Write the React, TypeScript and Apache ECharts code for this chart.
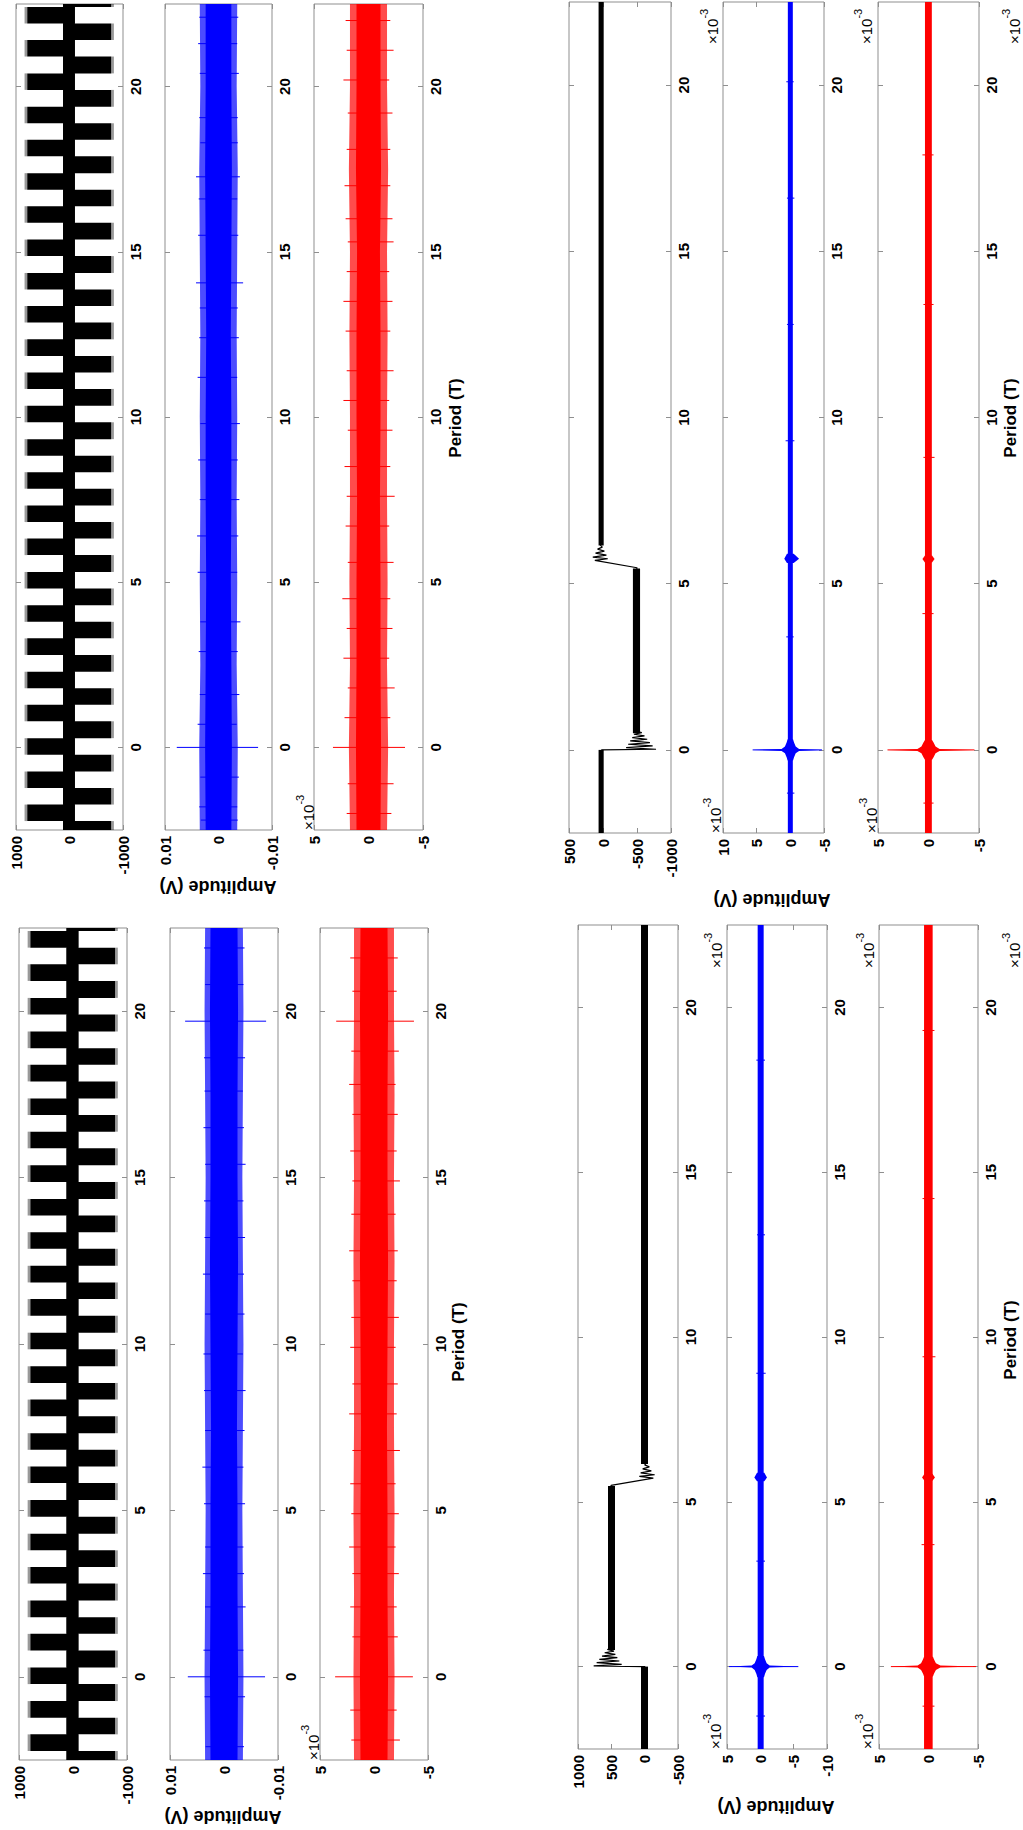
import React, { useEffect, useRef } from "react";
import * as echarts from "echarts";

// ---------------- DATA ----------------
const periodMin = -2.5;
const periodMax = 22.5;
const periodTicks = [0, 5, 10, 15, 20];

const sqBlackTicks = [-1000, 0, 1000];
const sqBlueTicks = [-0.01, 0, 0.01];
const redTicks = [-5, 0, 5];
const downBlackTicks = [-1000, -500, 0, 500];
const downBlueTicks = [-5, 0, 5, 10];
const upBlackTicks = [-500, 0, 500, 1000];
const upBlueTicks = [-10, -5, 0, 5];

// square wave (left column), period intervals of the positive / negative half cycles
const sqPosBlocks = [
  [-2.23, -1.73], [-1.23, -0.73], [-0.22, 0.28], [0.79, 1.29], [1.79, 2.29],
  [2.8, 3.3], [3.8, 4.3], [4.81, 5.31], [5.82, 6.32], [6.82, 7.32],
  [7.83, 8.33], [8.83, 9.33], [9.84, 10.34], [10.85, 11.35], [11.85, 12.35],
  [12.86, 13.36], [13.86, 14.36], [14.87, 15.37], [15.88, 16.38], [16.88, 17.38],
  [17.89, 18.39], [18.89, 19.39], [19.9, 20.4], [20.91, 21.41], [21.91, 22.41],
];
const sqNegBlocks = [
  [-2.5, -2.23], [-1.73, -1.23], [-0.73, -0.22], [0.28, 0.79], [1.29, 1.79],
  [2.29, 2.8], [3.3, 3.8], [4.3, 4.81], [5.31, 5.82], [6.32, 6.82],
  [7.32, 7.83], [8.33, 8.83], [9.33, 9.84], [10.34, 10.85], [11.35, 11.85],
  [12.35, 12.86], [13.36, 13.86], [14.36, 14.87], [15.37, 15.88], [16.38, 16.88],
  [17.38, 17.89], [18.39, 18.89], [19.39, 19.9], [20.4, 20.91], [21.41, 21.91], [22.41, 22.5],
];
const sqPosLevel = [-100, 790];
const sqNegLevel = [-780, 120];
const sqPosFringe = [790, 840];
const sqNegFringe = [-830, -780];
const sqSpine = [-100, 120];

// noise envelopes (half widths) sampled at these periods
const envPeriods = [-2.5, 0, 2.5, 5, 7.5, 10, 12.5, 15, 17.5, 20, 22.5];
const tlBlueOuter = [0.0035, 0.0036, 0.0034, 0.0035, 0.0034, 0.0035, 0.0034, 0.0035, 0.0036, 0.0034, 0.0035];
const tlBlueCore = [0.0024, 0.0025, 0.0024, 0.0023, 0.0024, 0.0024, 0.0023, 0.0024, 0.0025, 0.0024, 0.0024];
const tlRedOuter = [1.7, 1.8, 1.7, 1.75, 1.7, 1.7, 1.75, 1.7, 1.8, 1.7, 1.7];
const tlRedCore = [1.1, 1.15, 1.1, 1.1, 1.05, 1.1, 1.1, 1.05, 1.15, 1.1, 1.1];
const blBlueOuter = [0.0035, 0.0036, 0.0035, 0.0034, 0.0035, 0.0036, 0.0035, 0.0034, 0.0035, 0.0036, 0.0035];
const blBlueCore = [0.0025, 0.0026, 0.0025, 0.0025, 0.0024, 0.0025, 0.0026, 0.0025, 0.0025, 0.0026, 0.0025];
const blRedOuter = [1.85, 1.9, 1.85, 1.9, 1.85, 1.85, 1.9, 1.85, 1.9, 1.85, 1.85];
const blRedCore = [1.25, 1.3, 1.25, 1.25, 1.2, 1.25, 1.3, 1.25, 1.25, 1.3, 1.25];

// isolated excursions [period, low, high]
const tlBlueSpikes = [
  [0, -0.0074, 0.0078], [-2.2, -0.0036, 0.0033], [-1.8, -0.0035, 0.0036], [-0.9, -0.0038, 0.0034],
  [0.7, -0.0034, 0.0039], [1.6, -0.0039, 0.0035], [2.9, -0.0036, 0.0037], [3.8, -0.0041, 0.0034],
  [5.3, -0.0035, 0.0039], [6.4, -0.0037, 0.004], [7.5, -0.0039, 0.0035], [8.7, -0.0036, 0.0038],
  [9.8, -0.004, 0.0034], [11.2, -0.0035, 0.0039], [12.4, -0.0038, 0.0036], [13.3, -0.0036, 0.0035],
  [14.06, -0.0046, 0.0042], [15.5, -0.0037, 0.0038], [16.6, -0.0035, 0.0037], [17.27, -0.004, 0.0042],
  [18.3, -0.0036, 0.0034], [19.06, -0.0036, 0.0036], [20.4, -0.0038, 0.0035], [21.3, -0.0035, 0.0038],
  [22.1, -0.0037, 0.0036],
];
const tlRedSpikes = [
  [0, -3.35, 3.26], [-2.0, -2.1, 2.0], [-1.1, -2.3, 1.9], [0.9, -2.0, 2.2], [1.8, -2.4, 1.9],
  [2.7, -1.9, 2.3], [3.6, -2.2, 2.0], [4.5, -2.0, 2.4], [5.6, -2.3, 1.9], [6.7, -1.9, 2.1],
  [7.6, -2.4, 2.0], [8.5, -2.0, 2.2], [9.6, -2.2, 1.9], [10.5, -1.9, 2.3], [11.4, -2.3, 2.0],
  [12.6, -2.0, 2.1], [13.5, -2.2, 2.3], [14.4, -1.9, 2.0], [15.3, -2.3, 1.9], [16.0, -2.2, 2.1],
  [17.0, -2.0, 2.2], [18.1, -2.0, 2.0], [19.2, -2.2, 1.9], [20.2, -1.9, 2.3], [21.1, -2.3, 2.0],
  [22.0, -2.0, 2.1],
];
const blBlueSpikes = [
  [0, -0.0076, 0.0067], [19.7, -0.0078, 0.0072], [-2.1, -0.0037, 0.0034], [-0.6, -0.0039, 0.0036],
  [0.8, -0.0036, 0.0038], [2.1, -0.004, 0.0035], [3.1, -0.0037, 0.0039], [3.9, -0.0036, 0.0035],
  [5.2, -0.0039, 0.0037], [6.3, -0.0036, 0.004], [7.4, -0.0038, 0.0035], [8.6, -0.004, 0.0037],
  [9.7, -0.0035, 0.0038], [10.9, -0.0038, 0.0035], [12.1, -0.0037, 0.0039], [13.2, -0.0039, 0.0036],
  [14.3, -0.0036, 0.0037], [15.4, -0.004, 0.0035], [16.5, -0.0037, 0.0038], [17.6, -0.0035, 0.0036],
  [18.6, -0.0039, 0.0037], [20.8, -0.0036, 0.0035], [21.9, -0.0038, 0.0037],
];
const blRedSpikes = [
  [0, -3.6, 3.6], [19.7, -3.7, 3.5], [-1.9, -2.4, 2.1], [-1.0, -2.1, 2.2], [1.2, -2.2, 2.0],
  [2.1, -2.1, 2.2], [3.1, -2.3, 2.0], [3.9, -2.0, 2.3], [4.9, -2.3, 2.1], [5.8, -2.0, 2.2],
  [6.8, -2.4, 2.0], [7.9, -2.1, 2.3], [8.8, -2.2, 2.0], [9.9, -2.0, 2.2], [10.8, -2.3, 2.1],
  [11.9, -2.1, 2.0], [12.8, -2.2, 2.3], [13.9, -2.0, 2.1], [14.9, -2.4, 2.0], [15.8, -2.1, 2.2],
  [16.9, -2.2, 2.0], [17.8, -2.0, 2.3], [18.8, -2.3, 2.1], [20.6, -2.1, 2.0], [21.6, -2.2, 2.2],
];

// step panels (right column): black flat segments [p0, p1, low, high]
const trBlackFlat = [[-2.5, 0, -10, 65], [0.5, 5.46, -545, -440], [6.15, 22.5, -10, 65]];
const trBlackEdge1 = [
  [30, -0.04], [20, 0], [-780, 0.02], [-340, 0.07], [-730, 0.12], [-370, 0.17], [-690, 0.22],
  [-400, 0.27], [-650, 0.32], [-430, 0.37], [-610, 0.42], [-455, 0.47], [-570, 0.52], [-490, 0.56],
];
const trBlackEdge2 = [
  [-495, 5.42], [-500, 5.48], [120, 5.7], [-70, 5.75], [150, 5.8], [-50, 5.86], [110, 5.92],
  [-20, 5.98], [80, 6.04], [10, 6.1], [40, 6.16],
];
const brBlackFlat = [[-2.5, 0, -50, 55], [0.5, 5.48, 445, 550], [6.15, 22.5, -50, 55]];
const brBlackEdge1 = [
  [-10, -0.04], [0, 0], [765, 0.02], [345, 0.07], [720, 0.12], [380, 0.17], [680, 0.22],
  [410, 0.27], [640, 0.32], [440, 0.37], [600, 0.42], [460, 0.47], [560, 0.52], [490, 0.56],
];
const brBlackEdge2 = [
  [500, 5.44], [505, 5.5], [-130, 5.72], [80, 5.77], [-150, 5.82], [60, 5.88], [-100, 5.94],
  [30, 6.0], [-70, 6.06], [0, 6.12], [-30, 6.18],
];

// narrow noise bands (x10^-3) [p0, p1, low, high]
const trBlueBand = [[-2.5, 22.5, -0.37, 0.37]];
const trRedBand = [[-2.5, 22.5, -0.33, 0.35]];
const brBlueBand = [[-2.5, 22.5, -0.5, 0.4]];
const brRedBand = [[-2.5, 22.5, -0.42, 0.45]];
const trBlueSpikes = [[0, -4.7, 5.6], [-1.3, -0.6, 0.5], [3.4, -0.5, 0.6], [9.3, -0.6, 0.7], [12.8, -0.5, 0.5], [16.6, -0.6, 0.5], [20.1, -0.5, 0.6]];
const trRedSpikes = [[0, -4.55, 4.06], [-1.6, -0.5, 0.5], [4.1, -0.5, 0.6], [8.8, -0.6, 0.5], [13.4, -0.5, 0.5], [17.9, -0.5, 0.6]];
const brBlueSpikes = [[0, -5.7, 4.7], [-1.5, -0.7, 0.6], [3.2, -0.7, 0.6], [8.9, -0.8, 0.6], [13.1, -0.7, 0.5], [18.4, -0.7, 0.6]];
const brRedSpikes = [[0, -4.8, 3.8], [-1.2, -0.6, 0.6], [3.7, -0.6, 0.7], [9.4, -0.7, 0.6], [14.2, -0.6, 0.6], [19.3, -0.6, 0.6]];
// spike bodies [value, period]
const trBlueStars = [
  [[5.6, 0], [1.3, 0.03], [0.8, 0.1], [0.55, 0.22], [0.4, 0.32], [-0.4, 0.32], [-0.55, 0.22], [-0.8, 0.1], [-1.3, 0.03], [-4.7, 0], [-1.3, -0.03], [-0.8, -0.1], [-0.55, -0.22], [-0.4, -0.32], [0.4, -0.32], [0.55, -0.22], [0.8, -0.1], [1.3, -0.03]],
  [[0.9, 5.75], [0.5, 5.62], [-0.5, 5.62], [-1.3, 5.75], [-0.5, 5.9], [0.5, 5.9]],
];
const trRedStars = [
  [[4.06, 0], [1.1, 0.03], [0.7, 0.1], [0.5, 0.22], [0.35, 0.3], [-0.35, 0.3], [-0.5, 0.22], [-0.7, 0.1], [-1.1, 0.03], [-4.55, 0], [-1.1, -0.03], [-0.7, -0.1], [-0.5, -0.22], [-0.35, -0.3], [0.35, -0.3], [0.5, -0.22], [0.7, -0.1], [1.1, -0.03]],
  [[0.6, 5.74], [0.35, 5.64], [-0.35, 5.64], [-0.6, 5.74], [-0.35, 5.85], [0.35, 5.85]],
];
const brBlueStars = [
  [[4.7, 0], [1.3, 0.03], [0.85, 0.1], [0.6, 0.22], [0.45, 0.32], [-0.55, 0.32], [-0.7, 0.22], [-0.95, 0.1], [-1.4, 0.03], [-5.7, 0], [-1.4, -0.03], [-0.95, -0.1], [-0.7, -0.22], [-0.55, -0.32], [0.45, -0.32], [0.6, -0.22], [0.85, -0.1], [1.3, -0.03]],
  [[0.9, 5.74], [0.5, 5.62], [-0.6, 5.62], [-1.0, 5.74], [-0.6, 5.88], [0.5, 5.88]],
];
const brRedStars = [
  [[3.8, 0], [1.1, 0.03], [0.75, 0.1], [0.55, 0.22], [0.45, 0.3], [-0.45, 0.3], [-0.55, 0.22], [-0.75, 0.1], [-1.2, 0.03], [-4.8, 0], [-1.2, -0.03], [-0.75, -0.1], [-0.55, -0.22], [-0.45, -0.3], [0.45, -0.3], [0.55, -0.22], [0.75, -0.1], [1.1, -0.03]],
  [[0.65, 5.74], [0.4, 5.64], [-0.4, 5.64], [-0.65, 5.74], [-0.4, 5.85], [0.4, 5.85]],
];

// ---------------- STYLE / LAYOUT ----------------
const GRAY = "#8f8f8f";
const FONT = "'Liberation Sans', Arial, Helvetica, sans-serif";
const BLACK = "#000000";
const BLUE = "#0000ff";
const RED = "#ff0000";

const rectEl = (api: any, p0: number, p1: number, lo: number, hi: number, color: string, opacity = 1) => {
  const a = api.coord([lo, p0]);
  const b = api.coord([hi, p1]);
  return {
    type: "rect",
    shape: { x: Math.min(a[0], b[0]), y: Math.min(a[1], b[1]), width: Math.abs(b[0] - a[0]), height: Math.abs(b[1] - a[1]) },
    style: { fill: color, opacity },
  };
};
const bandEl = (api: any, halfs: number[], color: string, opacity: number) => {
  const up = envPeriods.map((p, k) => api.coord([halfs[k], p]));
  const dn = envPeriods.map((p, k) => api.coord([-halfs[k], p])).reverse();
  return { type: "polygon", shape: { points: up.concat(dn) }, style: { fill: color, opacity } };
};
const spikeEl = (api: any, s: number[], color: string) => {
  const a = api.coord([s[1], s[0]]);
  const b = api.coord([s[2], s[0]]);
  return { type: "line", shape: { x1: a[0], y1: a[1], x2: b[0], y2: b[1] }, style: { stroke: color, lineWidth: 1 } };
};
const polyEl = (api: any, pts: number[][], color: string) => ({
  type: "polygon",
  shape: { points: pts.map((q) => api.coord([q[0], q[1]])) },
  style: { fill: color },
});

const squareBlack = (api: any) => [
  rectEl(api, periodMin, periodMax, sqSpine[0], sqSpine[1], BLACK),
  ...sqPosBlocks.map((b) => rectEl(api, b[0], b[1], sqPosFringe[0], sqPosFringe[1], BLACK, 0.4)),
  ...sqNegBlocks.map((b) => rectEl(api, b[0], b[1], sqNegFringe[0], sqNegFringe[1], BLACK, 0.4)),
  ...sqPosBlocks.map((b) => rectEl(api, b[0], b[1], sqPosLevel[0], sqPosLevel[1], BLACK)),
  ...sqNegBlocks.map((b) => rectEl(api, b[0], b[1], sqNegLevel[0], sqNegLevel[1], BLACK)),
];
const noisy = (outer: number[], core: number[], spikes: number[][], color: string) => (api: any) => [
  bandEl(api, outer, color, 0.7),
  bandEl(api, core, color, 1),
  ...spikes.map((s) => spikeEl(api, s, color)),
];
const stepBlack = (flat: number[][]) => (api: any) => flat.map((f) => rectEl(api, f[0], f[1], f[2], f[3], BLACK));
const narrow = (band: number[][], spikes: number[][], stars: number[][][], color: string) => (api: any) => [
  ...band.map((f) => rectEl(api, f[0], f[1], f[2], f[3], color)),
  ...spikes.map((s) => spikeEl(api, s, color)),
  ...stars.map((st) => polyEl(api, st, color)),
];

type Sub = { x0: number; x1: number; top: number; bottom: number; min: number; max: number; ticks: number[]; draw: any; lines?: number[][][] };

const subplots: Sub[] = [
  // top-left
  { x0: 16, x1: 123, top: 4, bottom: 830, min: -1000, max: 1000, ticks: sqBlackTicks, draw: squareBlack },
  { x0: 165, x1: 272, top: 4, bottom: 830, min: -0.01, max: 0.01, ticks: sqBlueTicks, draw: noisy(tlBlueOuter, tlBlueCore, tlBlueSpikes, BLUE) },
  { x0: 314, x1: 423, top: 4, bottom: 830, min: -5, max: 5, ticks: redTicks, draw: noisy(tlRedOuter, tlRedCore, tlRedSpikes, RED) },
  // bottom-left
  { x0: 19, x1: 127, top: 928, bottom: 1760, min: -1000, max: 1000, ticks: sqBlackTicks, draw: squareBlack },
  { x0: 170, x1: 278, top: 928, bottom: 1760, min: -0.01, max: 0.01, ticks: sqBlueTicks, draw: noisy(blBlueOuter, blBlueCore, blBlueSpikes, BLUE) },
  { x0: 320, x1: 428, top: 928, bottom: 1760, min: -5, max: 5, ticks: redTicks, draw: noisy(blRedOuter, blRedCore, blRedSpikes, RED) },
  // top-right
  { x0: 569, x1: 671, top: 2, bottom: 833, min: -1000, max: 500, ticks: downBlackTicks, draw: stepBlack(trBlackFlat), lines: [trBlackEdge1, trBlackEdge2] },
  { x0: 723, x1: 824, top: 2, bottom: 833, min: -5, max: 10, ticks: downBlueTicks, draw: narrow(trBlueBand, trBlueSpikes, trBlueStars, BLUE) },
  { x0: 878, x1: 979, top: 2, bottom: 833, min: -5, max: 5, ticks: redTicks, draw: narrow(trRedBand, trRedSpikes, trRedStars, RED) },
  // bottom-right
  { x0: 578, x1: 678, top: 925, bottom: 1749, min: -500, max: 1000, ticks: upBlackTicks, draw: stepBlack(brBlackFlat), lines: [brBlackEdge1, brBlackEdge2] },
  { x0: 727, x1: 827, top: 925, bottom: 1749, min: -10, max: 5, ticks: upBlueTicks, draw: narrow(brBlueBand, brBlueSpikes, brBlueStars, BLUE) },
  { x0: 879, x1: 978, top: 925, bottom: 1749, min: -5, max: 5, ticks: redTicks, draw: narrow(brRedBand, brRedSpikes, brRedStars, RED) },
];

const ampTitlePos = [[218, 887], [223, 1817], [772, 900], [776, 1807]];
const periodTitlePos = [[455, 418], [458, 1342], [1010, 418], [1010, 1340]];
const ampExpPos = [[305, 830], [310, 1760], [712, 833], [868, 833], [712, 1749], [864, 1749]];
const perExpPos = [[709, 44], [863, 44], [1011, 44], [713, 968], [865, 968], [1011, 968]];

const labelStyle = { color: "#000", fontSize: 15, fontWeight: "bold", fontFamily: FONT };

function buildOption() {
  const grid: any[] = [];
  const xAxis: any[] = [];
  const yAxis: any[] = [];
  const series: any[] = [];
  subplots.forEach((s, i) => {
    grid.push({
      left: s.x0, top: s.top, width: s.x1 - s.x0, height: s.bottom - s.top,
      show: true, borderColor: GRAY, borderWidth: 1, backgroundColor: "#fff",
      containLabel: false, outerBoundsMode: "none",
    });
    const xi = xAxis.length;
    const yi = yAxis.length;
    const fmt = (v: number) => (v === 0 ? "0" : String(v));
    ["bottom", "top"].forEach((pos, k) => {
      xAxis.push({
        type: "value", gridIndex: i, position: pos, inverse: true, min: s.min, max: s.max,
        axisLine: { show: false, onZero: false }, splitLine: { show: false },
        axisTick: { show: true, inside: true, length: 5, lineStyle: { color: GRAY }, customValues: s.ticks },
        axisLabel: { show: k === 0, rotate: 90, margin: 6, customValues: s.ticks, formatter: fmt, ...labelStyle },
      });
    });
    ["right", "left"].forEach((pos, k) => {
      yAxis.push({
        type: "value", gridIndex: i, position: pos, min: periodMin, max: periodMax,
        axisLine: { show: false, onZero: false }, splitLine: { show: false },
        axisTick: { show: true, inside: true, length: 5, lineStyle: { color: GRAY }, customValues: periodTicks },
        axisLabel: { show: k === 0, rotate: 90, margin: 5, customValues: periodTicks, formatter: fmt, ...labelStyle },
      });
    });
    series.push({
      type: "custom", xAxisIndex: xi, yAxisIndex: yi, silent: true, clip: true, z: 2,
      data: [[0, 0]],
      renderItem: (_params: any, api: any) => ({ type: "group", children: s.draw(api) }),
    });
    (s.lines || []).forEach((ln) => {
      series.push({
        type: "line", xAxisIndex: xi, yAxisIndex: yi, silent: true, z: 3, showSymbol: false,
        data: ln, lineStyle: { color: BLACK, width: 1.2 }, itemStyle: { color: BLACK },
      });
    });
  });

  const graphic: any[] = [];
  ampTitlePos.forEach((p) =>
    graphic.push({
      type: "text", x: p[0], y: p[1], rotation: Math.PI, silent: true,
      style: { text: "Amplitude (V)", fill: "#000", fontSize: 18, fontWeight: "bold", fontFamily: FONT, align: "center", verticalAlign: "middle" },
    })
  );
  periodTitlePos.forEach((p) =>
    graphic.push({
      type: "text", x: p[0], y: p[1], rotation: Math.PI / 2, silent: true,
      style: { text: "Period (T)", fill: "#000", fontSize: 17, fontWeight: "bold", fontFamily: FONT, align: "center", verticalAlign: "middle" },
    })
  );
  const expText = (p: number[]) => ({
    type: "text", x: p[0], y: p[1], rotation: Math.PI / 2, silent: true,
    style: {
      text: "{a|×10}{b|-3}", align: "left", verticalAlign: "middle",
      rich: {
        a: { fontSize: 15, fontFamily: FONT, fill: "#000", lineHeight: 22, verticalAlign: "bottom" },
        b: { fontSize: 11, fontFamily: FONT, fill: "#000", lineHeight: 12, verticalAlign: "top" },
      },
    },
  });
  ampExpPos.forEach((p) => graphic.push(expText(p)));
  perExpPos.forEach((p) => graphic.push(expText(p)));

  return { animation: false, backgroundColor: "#ffffff", grid, xAxis, yAxis, series, graphic };
}

export default function App() {
  const ref = useRef<HTMLDivElement>(null);
  useEffect(() => {
    if (!ref.current) return;
    const chart = echarts.init(ref.current, undefined, { renderer: "svg" });
    chart.setOption(buildOption() as any);
    return () => chart.dispose();
  }, []);
  return (
    <div
      ref={ref}
      style={{ position: "absolute", left: 0, top: 0, width: 1023, height: 1830, background: "#fff" }}
    />
  );
}
